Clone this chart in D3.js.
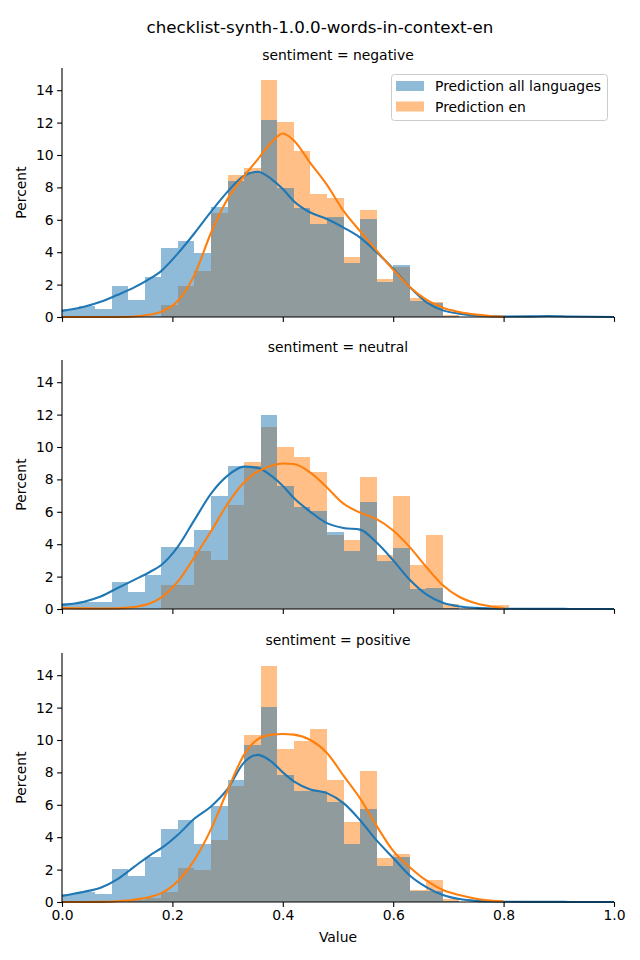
<!DOCTYPE html>
<html>
<head>
<meta charset="utf-8">
<script src="https://cdn.jsdelivr.net/npm/d3@7"></script>
<style>
  html, body { margin: 0; padding: 0; background: #fff; }
  svg { display: block; font-family: "DejaVu Sans", sans-serif; }
</style>
</head>
<body>
<svg id="chart" width="640" height="960"></svg>
<script>
// ---------- data ----------
const chartTitle = "checklist-synth-1.0.0-words-in-context-en";
const facets = ["sentiment = negative", "sentiment = neutral", "sentiment = positive"];
const seriesNames = ["Prediction all languages", "Prediction en"];
const xTicks = [0.0, 0.2, 0.4, 0.6, 0.8, 1.0];
const yTicks = [0, 2, 4, 6, 8, 10, 12, 14];
const binWidth = 0.03;
const binStarts = [0.00,0.03,0.06,0.09,0.12,0.15,0.18,0.21,0.24,0.27,0.30,0.33,0.36,0.39,0.42,0.45,0.48,0.51,0.54,0.57,0.60,0.63,0.66,0.69,0.72,0.75,0.78];

// histogram percents per bin
const negAll = [0.51,0.70,0.51,1.93,1.03,2.44,4.23,4.72,3.96,6.76,8.42,8.97,12.18,7.99,6.71,5.77,6.20,3.31,6.02,2.16,3.18,1.00,0.85,0.05,0,0,0];
const negEn  = [0,0,0,0,0,0,0.72,1.89,2.83,6.45,8.79,9.22,14.64,12.05,10.27,7.62,7.37,3.72,6.61,2.32,3.06,1.15,0.90,0.15,0,0,0];
const neuAll = [0.40,0.45,0.45,1.64,1.05,2.10,3.80,3.80,4.89,7.00,8.85,8.85,12.00,7.60,6.28,6.02,4.78,3.61,6.63,2.94,3.74,1.23,1.27,0.08,0,0,0];
const neuEn  = [0,0,0,0,0,0,1.46,1.46,3.61,3.00,6.39,9.10,11.25,10.00,9.40,8.48,4.54,4.23,8.17,3.31,7.00,2.69,4.54,0.29,0,0,0.25];
const posAll = [0.51,0.62,0.51,2.01,1.60,2.75,4.48,5.09,3.61,5.93,7.50,9.71,12.05,7.86,6.84,6.84,6.16,3.61,5.77,2.20,2.75,0.65,0.68,0.05,0,0,0];
const posEn  = [0,0,0,0,0.10,0.25,0.60,2.07,1.95,3.80,7.19,10.33,14.58,9.47,9.96,10.70,7.50,4.91,8.11,2.69,2.94,0.72,1.33,0.20,0,0,0];

// density curves (percent scale), read at these x positions
const kdeX = [0,0.04,0.07,0.10,0.13,0.16,0.18,0.21,0.24,0.27,0.30,0.33,0.355,0.38,0.40,0.42,0.45,0.48,0.51,0.54,0.57,0.60,0.63,0.66,0.69,0.72,0.75,0.78,0.80,0.85,0.88,0.92,1.0];
const negAllKde = [0.37,0.63,0.94,1.36,1.81,2.38,2.85,3.93,5.17,6.50,7.74,8.73,8.97,8.50,7.90,7.15,6.45,6.05,5.52,4.90,4.00,2.98,1.85,0.92,0.41,0.20,0.09,0.04,0.03,0.04,0.06,0.03,0.0];
const negEnKde  = [0,0,0,0.005,0.03,0.15,0.32,1.0,2.6,5.2,7.29,8.7,9.75,10.8,11.33,10.9,9.5,8.15,6.55,5.3,4.1,2.92,1.85,1.07,0.57,0.31,0.15,0.05,0.01,null,null,null,null];
const neuAllKde = [0.25,0.45,0.77,1.28,1.78,2.30,2.72,3.85,5.50,7.12,8.23,8.79,8.70,8.20,7.60,6.85,6.00,5.30,5.00,4.90,4.10,3.00,1.80,0.90,0.38,0.16,0.07,0.03,0.02,0.01,0.01,0.005,0.0];
const neuEnKde  = [0.06,0.04,0.03,0.04,0.12,0.35,0.72,1.70,3.20,4.80,6.49,7.82,8.50,8.85,8.98,8.95,8.42,7.50,6.50,5.95,5.55,4.85,3.82,2.59,1.46,0.74,0.35,0.14,0.06,null,null,null,null];
const posAllKde = [0.37,0.63,0.88,1.40,2.15,2.90,3.32,4.15,5.15,5.90,6.98,8.62,9.08,8.65,8.00,7.45,6.95,6.72,6.10,5.05,3.80,2.72,1.64,0.92,0.43,0.18,0.07,0.03,0.02,0.01,0.01,0.005,0.0];
const posEnKde  = [0,0,0.01,0.05,0.14,0.32,0.55,1.30,2.60,4.50,6.90,9.10,10.05,10.33,10.37,10.33,10.00,9.20,7.80,6.40,4.70,3.15,2.15,1.33,0.74,0.43,0.20,0.08,0.03,null,null,null,null];

const panels = [
  { title: facets[0], all: negAll, en: negEn, allKde: negAllKde, enKde: negEnKde },
  { title: facets[1], all: neuAll, en: neuEn, allKde: neuAllKde, enKde: neuEnKde },
  { title: facets[2], all: posAll, en: posEn, allKde: posAllKde, enKde: posEnKde }
];

// ---------- layout ----------
const colors = { all: "#1f77b4", en: "#ff7f0e" };
const left = 62, right = 614;
const panelBottoms = [317, 609, 902];
const panelH = 249;
const yMax = 15.37;
const fontPx = 13.9;

const svg = d3.select("#chart");
const x = d3.scaleLinear().domain([0, 1]).range([left, right]);

svg.append("text")
  .attr("x", 320).attr("y", 33)
  .attr("text-anchor", "middle")
  .attr("font-size", "16.7px")
  .attr("fill", "#000")
  .text(chartTitle);

panels.forEach((p, i) => {
  const bottom = panelBottoms[i];
  const top = bottom - panelH;
  const y = d3.scaleLinear().domain([0, yMax]).range([bottom, top]);
  const g = svg.append("g");

  // facet title
  g.append("text")
    .attr("x", (left + right) / 2).attr("y", top - 8)
    .attr("text-anchor", "middle")
    .attr("font-size", fontPx + "px")
    .attr("fill", "#000")
    .text(p.title);

  // histograms: en first, all on top
  const drawBars = (vals, color) => {
    g.append("g").selectAll("rect")
      .data(binStarts.map((b, k) => ({ b, v: vals[k] })).filter(d => d.v > 0))
      .join("rect")
      .attr("x", d => x(d.b))
      .attr("width", d => x(d.b + binWidth) - x(d.b))
      .attr("y", d => y(d.v))
      .attr("height", d => y(0) - y(d.v))
      .attr("fill", color)
      .attr("fill-opacity", 0.5)
      .attr("shape-rendering", "crispEdges");
  };
  drawBars(p.en, colors.en);
  drawBars(p.all, colors.all);

  // density lines
  const line = d3.line()
    .defined(d => d[1] !== null)
    .x(d => x(d[0]))
    .y(d => y(d[1]))
    .curve(d3.curveMonotoneX);
  const drawLine = (vals, color) => {
    g.append("path")
      .datum(kdeX.map((xx, k) => [xx, vals[k]]))
      .attr("d", line)
      .attr("fill", "none")
      .attr("stroke", color)
      .attr("stroke-width", 2.08)
      .attr("stroke-linejoin", "round")
      .attr("stroke-linecap", "butt");
  };
  drawLine(p.allKde, colors.all);
  drawLine(p.enKde, colors.en);

  // axes
  const yAxis = d3.axisLeft(y).tickValues(yTicks).tickFormat(d3.format("d"))
    .tickSize(4.9).tickPadding(3.5).tickSizeOuter(0);
  const ga = g.append("g").attr("transform", `translate(${left},0)`).call(yAxis);
  ga.select(".domain").attr("d", `M0,${top}V${bottom}`).attr("stroke", "#000").attr("stroke-width", 1.1);

  const xAxis = d3.axisBottom(x).tickValues(xTicks)
    .tickFormat(i === 2 ? d3.format(".1f") : () => "")
    .tickSize(4.9).tickPadding(3.5).tickSizeOuter(0);
  const gx = g.append("g").attr("transform", `translate(0,${bottom})`).call(xAxis);
  gx.select(".domain").attr("d", `M${left},0H${right}`).attr("stroke", "#000").attr("stroke-width", 1.1);

  [ga, gx].forEach(a => {
    a.selectAll(".tick line").attr("stroke", "#000").attr("stroke-width", 1.1);
    a.selectAll(".tick text").attr("font-size", fontPx + "px").attr("fill", "#000")
      .attr("font-family", "DejaVu Sans, sans-serif");
  });

  // y label
  g.append("text")
    .attr("transform", `translate(26,${(top + bottom) / 2}) rotate(-90)`)
    .attr("text-anchor", "middle")
    .attr("font-size", fontPx + "px")
    .attr("fill", "#000")
    .text("Percent");

  // legend on first panel
  if (i === 0) {
    const lg = g.append("g");
    lg.append("rect")
      .attr("x", 391.5).attr("y", 74.5).attr("width", 216).attr("height", 46)
      .attr("rx", 3).attr("fill", "#fff").attr("fill-opacity", 0.8)
      .attr("stroke", "#cccccc").attr("stroke-width", 1);
    [[colors.all, seriesNames[0]], [colors.en, seriesNames[1]]].forEach((s, k) => {
      const yy = 81 + k * 20.5;
      lg.append("rect").attr("x", 396).attr("y", yy).attr("width", 28).attr("height", 10)
        .attr("fill", s[0]).attr("fill-opacity", 0.5);
      lg.append("text").attr("x", 435).attr("y", yy + 10)
        .attr("font-size", fontPx + "px").attr("fill", "#000").text(s[1]);
    });
  }
});

// x label
svg.append("text")
  .attr("x", (left + right) / 2).attr("y", 942)
  .attr("text-anchor", "middle")
  .attr("font-size", fontPx + "px")
  .attr("fill", "#000")
  .text("Value");
</script>
</body>
</html>
